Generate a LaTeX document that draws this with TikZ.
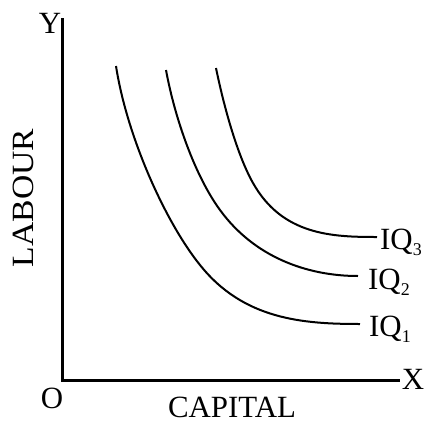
\documentclass[tikz,border=0pt]{standalone}
\usepackage{fontspec}
\setmainfont{Liberation Serif}
\begin{document}
\begin{tikzpicture}[x={(1bp,0)},y={(0,-1bp)},
  axis/.style={line width=3bp},
  curve/.style={line width=2bp},
  lbl/.style={inner sep=0pt,font=\fontsize{31}{36}\selectfont},
  iq/.style={lbl,anchor=base west}]
\useasboundingbox (0,0) rectangle (424,423);
\coordinate (Ytop) at (62,18);
\coordinate (O) at (62,380);
\coordinate (Xend) at (400,380);
\draw[axis] (Ytop) -- (O) -- (Xend);
\node[lbl,anchor=base] (ylab) at (50,33) {Y};
\node[lbl,anchor=base] (olab) at (52,408) {O};
\node[lbl,anchor=base] (xlab) at (413,389) {X};
\node[lbl,anchor=base] (cap) at (232,417) {CAPITAL};
\node[lbl,anchor=base,rotate=90] (lab) at (33,198) {\scalebox{1.09}[1]{LABOUR}};
% curves
\coordinate (s1) at (116,66);
\coordinate (m1) at (200,265);
\coordinate (e1) at (360,324);
\draw[curve] (s1) .. controls (127,137) and (165.5,222.2) .. (m1)
                  .. controls (243.5,319.6) and (303,324) .. (e1);
\coordinate (s2) at (166,70);
\coordinate (m2) at (220,210);
\coordinate (e2) at (358,276);
\draw[curve] (s2) .. controls (175,119) and (195.2,176.1) .. (m2)
                  .. controls (254.2,257) and (307,276) .. (e2);
\coordinate (s3) at (216,68);
\coordinate (m3) at (253,183);
\coordinate (e3) at (377,237);
\draw[curve] (s3) .. controls (224,107) and (237.3,155.2) .. (m3)
                  .. controls (282.4,235.2) and (332,237) .. (e3);
\node[iq] (iq1) at (369,336) {IQ\raisebox{-6bp}{\fontsize{18}{18}\selectfont 1}};
\node[iq] (iq2) at (368,289) {IQ\raisebox{-6bp}{\fontsize{18}{18}\selectfont 2}};
\node[iq] (iq3) at (380,249) {IQ\raisebox{-6bp}{\fontsize{18}{18}\selectfont 3}};
\end{tikzpicture}
\end{document}
